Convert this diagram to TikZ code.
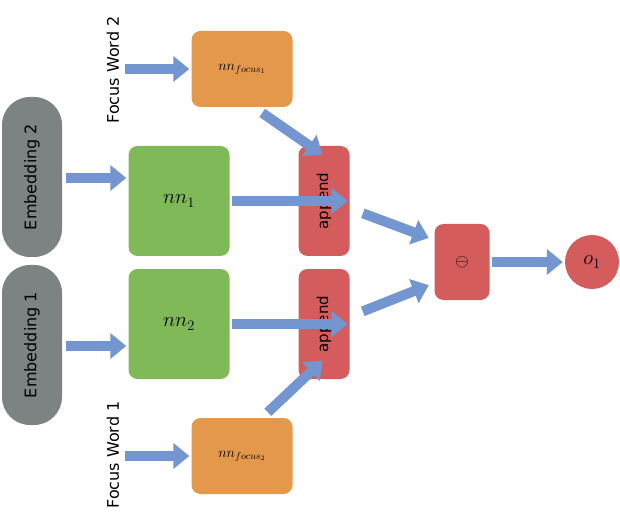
\documentclass[tikz,border=0pt]{standalone}
\usepackage{fontspec}
\setmainfont{DejaVu Sans}
\usetikzlibrary{arrows.meta,positioning}
\definecolor{arrblue}{RGB}{116,150,208}
\definecolor{embgray}{RGB}{125,130,130}
\definecolor{nngreen}{RGB}{128,185,88}
\definecolor{focorange}{RGB}{228,152,76}
\definecolor{opred}{RGB}{212,92,92}
\tikzset{
  box/.style={rounded corners=9pt,inner sep=0,align=center},
  emb/.style={box,fill=embgray,minimum width=160pt,minimum height=60pt,rounded corners=28pt,rotate=90,font=\fontsize{16}{18}\selectfont},
  nn/.style={box,fill=nngreen,minimum width=101pt,minimum height=110pt,font=\fontsize{22}{24}\selectfont},
  foc/.style={box,fill=focorange,minimum width=101pt,minimum height=76pt,font=\fontsize{14}{16}\selectfont},
  app/.style={box,fill=opred,minimum width=110pt,minimum height=51pt,rotate=90,font=\fontsize{15}{17}\selectfont},
  word/.style={rotate=90,font=\fontsize{16}{18}\selectfont},
  arr/.style={draw=arrblue,line width=10pt,-{Triangle[length=16pt,width=25pt]},shorten <=2pt,shorten >=2pt}
}
\begin{document}
\begin{tikzpicture}[x=1pt,y=-1pt]
  \useasboundingbox (0,0) rectangle (620,526);
  \node[emb] (emb2) at (32,177) {Embedding 2};
  \node[emb] (emb1) at (32,345) {Embedding 1};
  \node[word] (fw2) at (113,70) {Focus Word 2};
  \node[word] (fw1) at (113,455) {Focus Word 1};
  \node[foc] (foc1) at (242,69) {$nn_{focus_1}$};
  \node[foc] (foc2) at (242,456) {$nn_{focus_2}$};
  \node[nn] (nn1) at (179,201) {$nn_1$};
  \node[nn] (nn2) at (179,324) {$nn_2$};
  \node[app] (ap1) at (324,201) {append};
  \node[app] (ap2) at (324,324) {append};
  \node[box,fill=opred,minimum width=55pt,minimum height=76pt,font=\fontsize{18}{20}\selectfont] (diff) at (462,262) {$\ominus$};
  \node[circle,fill=opred,minimum size=54pt,inner sep=0,font=\fontsize{20}{22}\selectfont] (out) at (592,262) {$o_1$};
  % arrows
  \draw[arr] (emb2.south) ++(2,1) coordinate (e2) (e2) -- (nn1.west |- e2);
  \draw[arr] (emb1.south) ++(2,1) coordinate (e1) (e1) -- (nn1.west |- e1);
  \draw[arr] (fw2.south |- foc1) -- (foc1.west);
  \draw[arr] (fw1.south |- foc2) -- (foc2.west);
  \draw[arr] (nn1.east) -- (ap1.south);
  \draw[arr] (nn2.east) -- (ap2.south);
  \draw[arr,shorten <=10pt] ([xshift=12pt]foc1.south) -- ([yshift=-10pt]ap1.east);
  \draw[arr,shorten <=8pt] ([xshift=20pt]foc2.north) -- ([yshift=20pt]ap2.west);
  \draw[arr,shorten <=18pt,shorten >=6pt] (ap1.south east) ++(0,0) coordinate (a1) (ap1.center) ++(22,6) coordinate (a1) (a1) -- (diff.north west |- 0,240);
  \draw[arr,shorten <=18pt,shorten >=6pt] (ap2.center) ++(22,-6) coordinate (a2) (a2) -- (diff.south west |- 0,283);
  \draw[arr] (diff.east) -- (out.west);
\end{tikzpicture}
\end{document}
